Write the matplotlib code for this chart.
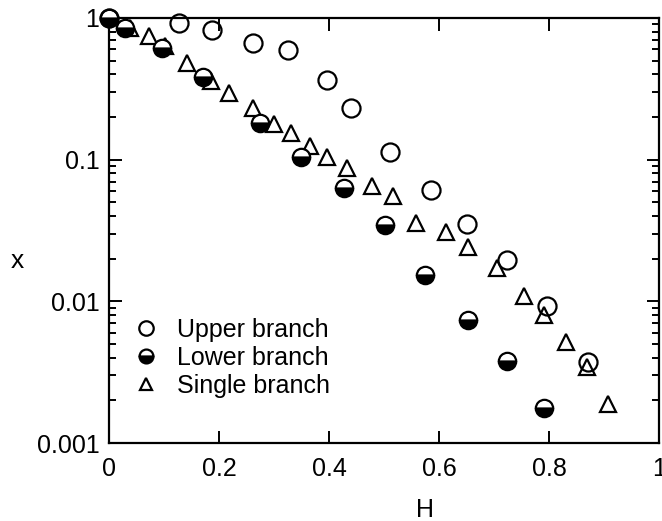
import numpy as np
import matplotlib
matplotlib.use('Agg')
import matplotlib.pyplot as plt

plt.rcParams['font.family'] = ['Liberation Sans', 'DejaVu Sans']

# Upper branch (open circles)
H_upper = [0.0, 0.128, 0.187, 0.261, 0.326, 0.396, 0.44, 0.511, 0.585, 0.65, 0.723, 0.796, 0.87]
x_upper = [1.0, 0.92, 0.82, 0.67, 0.59, 0.365, 0.23, 0.114, 0.061, 0.0352, 0.0196, 0.0093, 0.00375]

# Lower branch (half filled circles)
H_lower = [0.0, 0.029, 0.096, 0.171, 0.275, 0.349, 0.427, 0.502, 0.575, 0.652, 0.723, 0.791]
x_lower = [1.0, 0.85, 0.61, 0.385, 0.18, 0.105, 0.063, 0.0346, 0.0154, 0.0074, 0.0038, 0.00176]

# Single branch (open triangles)
H_single = [0.038, 0.073, 0.102, 0.141, 0.185, 0.219, 0.261, 0.30, 0.331, 0.365, 0.396, 0.432,
            0.478, 0.517, 0.559, 0.612, 0.653, 0.705, 0.755, 0.79, 0.83, 0.869, 0.908]
x_single = [0.85, 0.75, 0.63, 0.48, 0.36, 0.297, 0.233, 0.179, 0.153, 0.124, 0.105, 0.087,
            0.065, 0.055, 0.0356, 0.031, 0.0243, 0.0171, 0.0109, 0.008, 0.0052, 0.00346, 0.00189]

fig = plt.figure(figsize=(6.62, 5.21), dpi=100)
ax = fig.add_axes([0.1647, 0.1497, 0.8308, 0.8158])

ax.plot(H_single, x_single, linestyle='none', marker='^', markersize=11.5,
        markerfacecolor='white', markeredgecolor='black', markeredgewidth=1.6,
        label='Single branch', zorder=3, clip_on=False)
ax.plot(H_lower, x_lower, linestyle='none', marker='o', markersize=12.5,
        fillstyle='bottom', markerfacecolor='black', markerfacecoloralt='white',
        markeredgecolor='black', markeredgewidth=1.6, label='Lower branch', zorder=4,
        clip_on=False)
ax.plot(H_upper, x_upper, linestyle='none', marker='o', markersize=13,
        markerfacecolor='none', markeredgecolor='black', markeredgewidth=1.6,
        label='Upper branch', zorder=5, clip_on=False)

ax.set_yscale('log')
ax.set_xlim(0, 1)
ax.set_ylim(0.001, 1)
ax.set_xticks([0, 0.2, 0.4, 0.6, 0.8, 1.0])
ax.set_xticklabels(['0', '0.2', '0.4', '0.6', '0.8', '1'])
ax.set_yticks([0.001, 0.01, 0.1, 1])
ax.set_yticklabels(['0.001', '0.01', '0.1', '1'])

for s in ax.spines.values():
    s.set_linewidth(1.6)
ax.tick_params(which='both', direction='in', top=True, right=True, width=1.4)
ax.tick_params(which='major', length=9, labelsize=18, pad=7)
ax.tick_params(axis='x', which='major', pad=10)
ax.tick_params(which='minor', length=5)
ax.tick_params(axis='x', which='minor', bottom=False, top=False)

ax.set_xlabel('H', fontsize=18)
ax.xaxis.set_label_coords(0.575, -0.13)
ax.set_ylabel('x', fontsize=19, rotation=0)
ax.yaxis.set_label_coords(-0.167, 0.40)

handles, labels = ax.get_legend_handles_labels()
order = [2, 1, 0]
ax.legend([handles[i] for i in order], [labels[i] for i in order],
          loc='upper left', bbox_to_anchor=(0.012, 0.335), frameon=False,
          fontsize=18, markerscale=0.8, handlelength=1.0, handletextpad=0.75,
          labelspacing=0.15, borderaxespad=0.3)

fig.savefig('out.png', dpi=100)
